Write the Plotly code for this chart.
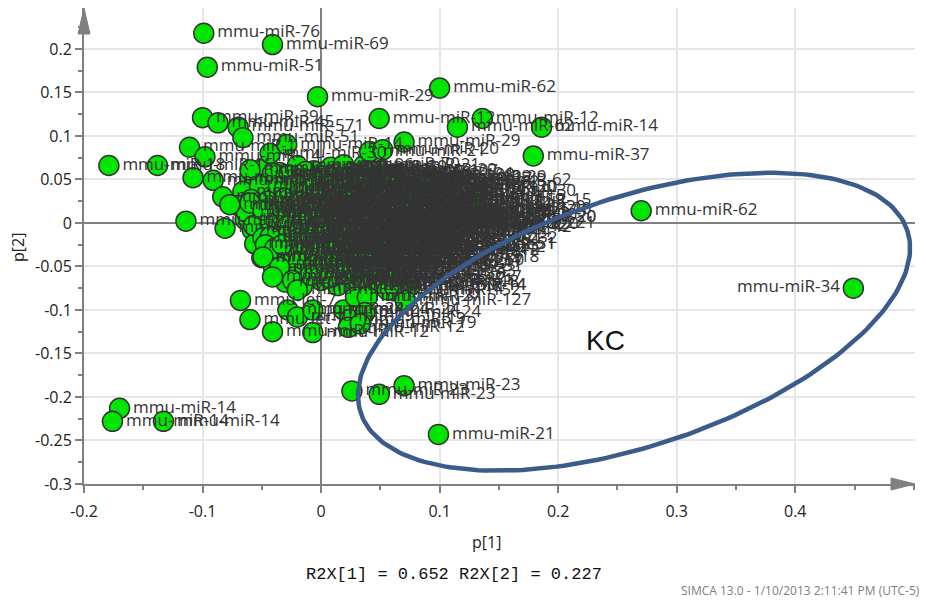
import numpy as np
import plotly.graph_objects as go

# ---------------- data (loadings p[1], p[2]) ----------------
# clearly separated, labelled points
OUT_NAMES = ["mmu-miR-76", "mmu-miR-69", "mmu-miR-51", "mmu-miR-29", "mmu-miR-62",
             "mmu-miR-12", "mmu-miR-62", "mmu-miR-12", "mmu-miR-14", "mmu-miR-37",
             "mmu-miR-29", "mmu-miR-21", "mmu-miR-20", "mmu-miR-70", "mmu-miR-62",
             "mmu-miR-34", "mmu-miR-23", "mmu-miR-23", "mmu-miR-23", "mmu-miR-21",
             "mmu-miR-14", "mmu-miR-14", "mmu-miR-14", "mmu-miR-18", "mmu-miR-15",
             "mmu-miR-19", "mmu-miR-20", "mmu-miR-15", "mmu-miR-51", "mmu-miR-18",
             "mmu-miR-14", "mmu-miR-127", "mmu-miR-42", "mmu-miR-30", "mmu-miR-62",
             "mmu-miR-29", "mmu-miR-20", "mmu-miR-24", "mmu-miR-19"]
OUT_P1 = [-0.099, -0.041, -0.096, -0.003, 0.100,
          0.049, 0.115, 0.136, 0.186, 0.179,
          0.070, 0.041, 0.052, 0.019, 0.270,
          0.449, 0.070, 0.026, 0.049, 0.099,
          -0.170, -0.176, -0.133, -0.179, -0.138,
          -0.114, 0.134, 0.130, 0.100, 0.071,
          0.075, 0.071, 0.113, 0.117, 0.113,
          0.092, 0.130, 0.037, 0.033]
OUT_P2 = [0.218, 0.205, 0.179, 0.145, 0.155,
          0.120, 0.110, 0.120, 0.110, 0.077,
          0.093, 0.082, 0.084, 0.067, 0.014,
          -0.075, -0.187, -0.193, -0.197, -0.243,
          -0.213, -0.228, -0.228, 0.066, 0.066,
          0.002, 0.006, 0.026, -0.025, -0.034,
          -0.072, -0.089, -0.006, 0.036, 0.049,
          0.052, 0.015, -0.103, -0.116]

# fringe of the dense group (markers partly visible)
FR_NAMES = ["mmu-miR-1", "mmu-miR-39", "mmu-miR-45", "mmu-miR-571", "mmu-miR-51",
            "mmu-miR-14", "mmu-miR-30", "mmu-miR-14", "mmu-miR-99", "mmu-miR-10",
            "mmu-miR-22", "mmu-miR-26", "mmu-miR-27", "mmu-miR-19", "mmu-miR-30",
            "mmu-miR-32", "mmu-miR-15", "mmu-miR-16", "mmu-miR-17", "mmu-miR-18",
            "mmu-miR-20", "mmu-miR-21", "mmu-miR-22", "mmu-miR-23", "mmu-miR-24",
            "mmu-let-7", "mmu-let-7", "mmu-miR-12", "mmu-miR-24", "mmu-miR-19",
            "mmu-miR-24", "mmu-miR-12", "mmu-miR-24", "mmu-miR-19", "mmu-miR-12",
            "mmu-miR-127", "mmu-miR-31", "mmu-miR-14", "mmu-miR-18"]
FR_P1 = [-0.111, -0.100, -0.087, -0.070, -0.066, -0.098, -0.043, -0.029, -0.108, -0.091,
         -0.083, -0.077, -0.060, -0.081, -0.060, -0.049, -0.043, -0.047, -0.039, -0.049,
         -0.033, -0.035, -0.041, -0.024, -0.020, -0.068, -0.060, -0.041, -0.028, -0.020,
         -0.007, -0.007, 0.019, 0.024, 0.023, 0.029, 0.039, 0.056, 0.069]
FR_P2 = [0.087, 0.121, 0.115, 0.110, 0.098, 0.076, 0.080, 0.090, 0.052, 0.049,
         0.030, 0.021, 0.061, -0.006, 0.023, 0.015, -0.016, -0.025, -0.029, -0.039,
         -0.025, -0.051, -0.062, -0.066, -0.077, -0.089, -0.111, -0.125, -0.100, -0.108,
         -0.100, -0.126, -0.100, -0.111, -0.120, -0.085, -0.085, -0.077, -0.069]

# dense core, first layer (labels overlap into a dark mass)
CORE_IDS = ("29 10 96 62 30 15 21 20 24 17 "
            "30 14 26 16 19 27 33 99 22 19 62 30 "
            "26 29 31 92 10 12 13 15 18 20 21 23 15 "
            "27 28 30 32 34 92 93 96 98 99 10 12 14 25 20 "
            "19 17 16 15 14 13 12 11 10 21 22 29 47 20 20 "
            "30 31 32 33 34 35 36 37 38 42 43 44 42 "
            "45 46 48 49 50 52 53 54 122 125 23 51 "
            "124 126 127 128 129 130 132 133 134 18 18 "
            "135 136 138 139 140 141 142 143 31 "
            "144 145 146 148 149 150 151 152 14 "
            "181 182 183 184 185 186 187 188 190 191 192 193 194 195 196 197 199 "
            "200 201 202 203 204 205 206 207 208 209 210 211 212 214 215 216 217").split()
CORE_P1 = [-0.048, -0.035, -0.020, -0.006, 0.008, 0.022, 0.036, 0.050, 0.064, 0.080,
           -0.060, -0.044, -0.028, -0.014, 0.000, 0.014, 0.028, 0.042, 0.056, 0.070, 0.086, 0.100,
           -0.066, -0.052, -0.038, -0.024, -0.010, 0.004, 0.018, 0.032, 0.046, 0.060, 0.074, 0.090, 0.108,
           -0.070, -0.056, -0.042, -0.028, -0.014, 0.000, 0.012, 0.026, 0.040, 0.054, 0.068, 0.082, 0.096, 0.112, 0.125,
           -0.064, -0.050, -0.036, -0.022, -0.008, 0.006, 0.020, 0.034, 0.048, 0.062, 0.076, 0.090, 0.104, 0.118, 0.134,
           -0.058, -0.044, -0.030, -0.016, -0.002, 0.012, 0.026, 0.040, 0.054, 0.068, 0.082, 0.096, 0.110,
           -0.056, -0.040, -0.026, -0.012, 0.002, 0.016, 0.030, 0.044, 0.058, 0.072, 0.086, 0.100,
           -0.050, -0.036, -0.022, -0.008, 0.006, 0.020, 0.034, 0.048, 0.062, 0.071, 0.086,
           -0.040, -0.026, -0.012, 0.002, 0.016, 0.030, 0.044, 0.058, 0.072,
           -0.030, -0.016, 0.000, 0.014, 0.028, 0.042, 0.056, 0.062, 0.075,
           -0.020, 0.010, 0.038, 0.066, -0.032, -0.004, 0.024, 0.050, 0.078, -0.040, -0.014, 0.014,
           0.040, 0.064, 0.090, -0.024, 0.002, 0.028, 0.054, 0.080, -0.036, -0.008, 0.020, 0.046,
           0.074, -0.030, -0.002, 0.024, 0.052, 0.078, -0.018, 0.010, 0.038, 0.064]
CORE_P2 = [0.062, 0.058, 0.066, 0.060, 0.064, 0.058, 0.066, 0.060, 0.055, 0.050,
           0.050, 0.047, 0.052, 0.045, 0.050, 0.046, 0.052, 0.044, 0.049, 0.043, 0.046, 0.040,
           0.036, 0.032, 0.038, 0.030, 0.036, 0.031, 0.037, 0.030, 0.036, 0.031, 0.035, 0.028, 0.030,
           0.020, 0.016, 0.022, 0.015, 0.021, 0.017, 0.023, 0.016, 0.022, 0.015, 0.020, 0.014, 0.020, 0.015, 0.018,
           0.004, 0.008, 0.002, 0.009, 0.003, 0.008, 0.001, 0.007, 0.002, 0.008, 0.001, 0.006, 0.002, 0.008, 0.006,
           -0.008, -0.012, -0.006, -0.013, -0.007, -0.012, -0.005, -0.011, -0.006, -0.012, -0.007, -0.011, -0.004,
           -0.024, -0.020, -0.026, -0.021, -0.027, -0.022, -0.028, -0.021, -0.026, -0.020, -0.027, -0.025,
           -0.040, -0.036, -0.042, -0.037, -0.043, -0.036, -0.042, -0.037, -0.043, -0.034, -0.040,
           -0.052, -0.057, -0.051, -0.058, -0.052, -0.058, -0.051, -0.056, -0.050,
           -0.068, -0.073, -0.066, -0.072, -0.066, -0.072, -0.066, -0.078, -0.072,
           0.040, 0.042, 0.040, 0.038, 0.025, 0.027, 0.026, 0.026, 0.026, 0.010, 0.012, 0.013,
           0.012, 0.011, 0.012, -0.001, 0.000, -0.002, 0.000, -0.002, -0.016, -0.017, -0.016, -0.017,
           -0.016, -0.032, -0.031, -0.032, -0.031, -0.032, -0.046, -0.047, -0.046, -0.046]

# dense core, second layer
CORE2_IDS = ("101 102 103 104 105 106 107 108 109 "
             "110 111 112 113 114 115 116 117 118 119 120 "
             "121 123 131 137 147 153 154 155 156 157 158 159 "
             "160 161 162 163 164 165 166 167 168 169 170 171 172 173 "
             "174 175 176 177 178 179 180 189 198 213 218 219 220 221 "
             "222 223 224 225 226 227 228 229 230 231 232 "
             "233 234 235 236 237 238 239 240 241 242 "
             "243 244 245 246 247 248 249 250 "
             "251 252 253 254 255 256 257").split()
CORE2_P1 = [-0.041, -0.027, -0.013, 0.001, 0.015, 0.029, 0.043, 0.057, 0.071,
            -0.052, -0.036, -0.021, -0.007, 0.007, 0.021, 0.035, 0.049, 0.063, 0.077, 0.093,
            -0.059, -0.045, -0.031, -0.017, -0.003, 0.011, 0.025, 0.039, 0.053, 0.067, 0.081, 0.099,
            -0.063, -0.049, -0.035, -0.021, -0.007, 0.005, 0.019, 0.033, 0.047, 0.061, 0.075, 0.089, 0.103, 0.118,
            -0.057, -0.043, -0.029, -0.015, -0.001, 0.013, 0.027, 0.041, 0.055, 0.069, 0.083, 0.097, 0.111, 0.125,
            -0.049, -0.033, -0.019, -0.005, 0.009, 0.023, 0.037, 0.051, 0.065, 0.079, 0.093,
            -0.043, -0.029, -0.015, -0.001, 0.013, 0.027, 0.041, 0.055, 0.069, 0.083,
            -0.033, -0.019, -0.005, 0.009, 0.023, 0.037, 0.051, 0.065,
            -0.023, -0.009, 0.007, 0.021, 0.035, 0.049, 0.063]
CORE2_P2 = [0.057, 0.055, 0.059, 0.054, 0.058, 0.056, 0.059, 0.054, 0.052,
            0.043, 0.041, 0.044, 0.040, 0.043, 0.039, 0.044, 0.041, 0.043, 0.038, 0.041,
            0.027, 0.025, 0.028, 0.024, 0.027, 0.025, 0.028, 0.024, 0.027, 0.025, 0.023, 0.026,
            0.012, 0.010, 0.013, 0.009, 0.012, 0.010, 0.013, 0.009, 0.012, 0.010, 0.013, 0.009, 0.011, 0.013,
            -0.003, -0.001, -0.004, 0.000, -0.003, -0.001, -0.004, 0.000, -0.003, -0.001, -0.004, 0.000, -0.002, -0.001,
            -0.017, -0.015, -0.018, -0.014, -0.017, -0.015, -0.018, -0.014, -0.017, -0.015, -0.018,
            -0.031, -0.029, -0.032, -0.028, -0.031, -0.029, -0.032, -0.028, -0.031, -0.029,
            -0.047, -0.045, -0.048, -0.044, -0.047, -0.045, -0.048, -0.044,
            -0.062, -0.060, -0.063, -0.059, -0.062, -0.060, -0.063]

X_TICKS = [-0.2, -0.1, 0, 0.1, 0.2, 0.3, 0.4]
X_TICKTEXT = ["-0.2", "-0.1", "0", "0.1", "0.2", "0.3", "0.4"]
Y_TICKS = [-0.3, -0.25, -0.2, -0.15, -0.1, -0.05, 0, 0.05, 0.1, 0.15, 0.2]
Y_TICKTEXT = ["-0.3", "-0.25", "-0.2", "-0.15", "-0.1", "-0.05", "0", "0.05", "0.1", "0.15", "0.2"]

# ---------------- assemble ----------------
core = list(zip(CORE_IDS, CORE_P1, CORE_P2)) + list(zip(CORE2_IDS, CORE2_P1, CORE2_P2))
names = ["mmu-miR-" + c[0] for c in core] + FR_NAMES + OUT_NAMES
p1 = [c[1] for c in core] + FR_P1 + OUT_P1
p2 = [c[2] for c in core] + FR_P2 + OUT_P2
textpos = ["middle left" if x > 0.4 else "middle right" for x in p1]

# pixel scale of the axes (for drawing the annotation ellipse with screen-space tilt)
KX, KY = 1185.0, 870.0
t = np.linspace(0, 2 * np.pi, 240)
a_px, b_px, th = 288.0, 124.0, np.deg2rad(-18.5)
cx, cy = 0.2640, -0.1135
dx = a_px * np.cos(t) * np.cos(th) - b_px * np.sin(t) * np.sin(th)
dy = a_px * np.cos(t) * np.sin(th) + b_px * np.sin(t) * np.cos(th)
ex = cx + dx / KX
ey = cy - dy / KY

fig = go.Figure()
fig.add_trace(go.Scatter(
    x=p1, y=p2, mode="markers+text", text=names, textposition=textpos,
    marker=dict(size=20, color="#00e600", line=dict(color="#333333", width=1.5)),
    textfont=dict(family="Open Sans", size=17, color="#333333"),
    hoverinfo="skip", cliponaxis=False))
fig.add_trace(go.Scatter(
    x=ex, y=ey, mode="lines", line=dict(color="#3a5c8a", width=4.5),
    hoverinfo="skip"))

axis_common = dict(
    showgrid=True, gridcolor="#e6e6e6", gridwidth=2,
    zeroline=True, zerolinecolor="#808080", zerolinewidth=1.5,
    showline=True, linecolor="#808080", linewidth=2,
    ticks="outside", ticklen=7, tickcolor="#808080", tickwidth=1.5,
    tickfont=dict(family="Open Sans", size=16, color="#222222"),
)
fig.update_layout(
    width=926, height=603,
    margin=dict(l=84, r=11, t=8, b=119),
    paper_bgcolor="white", plot_bgcolor="white",
    showlegend=False,
    xaxis=dict(range=[-0.2, 0.501], tickvals=X_TICKS, ticktext=X_TICKTEXT,
               ticklabelstandoff=5,
               minor=dict(dtick=0.05, tick0=0, ticks="outside", ticklen=4,
                          tickcolor="#808080", showgrid=False),
               **axis_common),
    yaxis=dict(range=[-0.3, 0.247], tickvals=Y_TICKS, ticktext=Y_TICKTEXT,
               minor=dict(dtick=0.025, tick0=0, ticks="outside", ticklen=4,
                          tickcolor="#808080", showgrid=False),
               **axis_common),
)

# axis arrow heads
fig.add_shape(type="path", xref="paper", yref="paper", xsizemode="pixel", ysizemode="pixel",
              xanchor=0, yanchor=1, path="M 0 0 L -6 -26 L 6 -26 Z",
              fillcolor="#808080", line=dict(color="#808080", width=1), layer="above")
fig.add_shape(type="path", xref="paper", yref="paper", xsizemode="pixel", ysizemode="pixel",
              xanchor=1, yanchor=0, path="M 0 0 L -24 6 L -24 -6 Z",
              fillcolor="#808080", line=dict(color="#808080", width=1), layer="above")

fig.add_annotation(text="p[1]", xref="paper", yref="paper", x=(486 - 84) / 831, y=(484 - 542) / 476,
                   xanchor="center", yanchor="middle", showarrow=False,
                   font=dict(family="Open Sans", size=16, color="#222222"))
fig.add_annotation(text="p[2]", xref="paper", yref="paper", x=(18 - 84) / 831, y=(484 - 248) / 476,
                   xanchor="center", yanchor="middle", textangle=-90, showarrow=False,
                   font=dict(family="Open Sans", size=16, color="#222222"))
fig.add_annotation(text="R2X[1] = 0.652 R2X[2] = 0.227", xref="paper", yref="paper",
                   x=(454 - 84) / 831, y=(484 - 574) / 476, xanchor="center", yanchor="middle",
                   showarrow=False, font=dict(family="Liberation Mono", size=17, color="#111111"))
fig.add_annotation(text="SIMCA 13.0 - 1/10/2013 2:11:41 PM (UTC-5)", xref="paper", yref="paper",
                   x=(922 - 84) / 831, y=(484 - 590) / 476, xanchor="right", yanchor="middle",
                   showarrow=False, font=dict(family="Open Sans", size=12, color="#808080"))
fig.add_annotation(text="KC", xref="x", yref="y", x=0.2397, y=-0.1356, showarrow=False,
                   font=dict(family="Liberation Sans", size=28, color="#111111"))

fig.write_html("out.html")
